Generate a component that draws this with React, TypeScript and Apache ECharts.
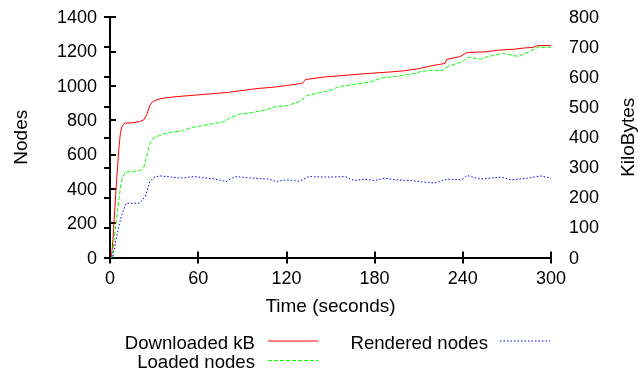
import React, { useEffect, useRef } from "react";
import * as echarts from "echarts";

// ---- data ----
const timeTicks = [0, 60, 120, 180, 240, 300];

const downloadedTime = [0, 1, 2, 4, 6, 7, 8, 10, 15, 20, 23, 25, 27, 29, 32, 36, 45, 60, 80, 100, 110, 120, 129, 131, 133, 145, 160, 175, 190, 200, 210, 218, 226, 228, 229, 238, 243, 255, 265, 275, 282, 288, 291, 300];
const downloadedKB = [0, 0, 60, 220, 360, 410, 435, 447, 448, 452, 458, 475, 505, 518, 525, 530, 535, 541, 549, 562, 566, 572, 578, 580, 592, 600, 606, 612, 617, 621, 628, 637, 644, 646, 659, 668, 682, 684, 690, 693, 697, 699, 705, 705];

const loadedTime = [0, 1.5, 3, 5, 7, 8, 10, 15, 21, 23, 25, 27, 29, 31, 36, 42, 50, 55, 60, 68, 77, 81, 88, 95, 106, 113, 120, 129, 134, 143, 151, 156, 165, 176, 185, 194, 205, 212, 219, 226, 230, 240, 243, 252, 257, 267, 278, 285, 291, 300];
const loadedNodes = [0, 0, 120, 267, 400, 450, 495, 500, 508, 525, 590, 660, 690, 700, 718, 730, 738, 757, 763, 776, 790, 810, 835, 841, 860, 879, 883, 908, 943, 960, 976, 996, 1006, 1020, 1045, 1054, 1068, 1083, 1090, 1088, 1112, 1141, 1166, 1155, 1170, 1188, 1170, 1198, 1224, 1224];

const renderedTime = [0, 2, 4, 6, 8, 11, 20, 24, 27, 30, 34, 42, 48, 57, 63, 72, 79, 85, 97, 108, 113, 120, 129, 135, 148, 160, 166, 173, 180, 187, 194, 205, 212, 221, 230, 239, 243, 252, 266, 273, 284, 293, 300];
const renderedNodes = [0, 5, 100, 180, 250, 316, 316, 355, 440, 468, 475, 468, 462, 471, 465, 456, 442, 471, 462, 456, 442, 452, 444, 471, 468, 471, 448, 456, 448, 462, 452, 448, 440, 434, 456, 452, 477, 456, 468, 452, 462, 475, 462];

const seriesNames = ["Downloaded kB", "Loaded nodes", "Rendered nodes"];
const seriesColors = ["#ff0000", "#00ff00", "#0000ff"];

const FONT = "Liberation Sans";
const FS = 18;
const FS_TEXT = 19;
const FS_LEGEND = 18.6;

const zip = (xs: number[], ys: number[]) => xs.map((x, i) => [x, ys[i]]);

export default function App() {
  const ref = useRef<HTMLDivElement>(null);
  useEffect(() => {
    const chart = echarts.init(ref.current!, null, { renderer: "svg" });
    const axisLine = { show: true, lineStyle: { color: "#000", width: 2 } };
    const axisTick = { show: true, inside: true, length: 6, lineStyle: { color: "#000", width: 2 } };
    const label = { color: "#000", fontSize: FS, fontFamily: FONT, formatter: (v: number) => String(v) };
    const nameStyle = { color: "#000", fontSize: FS_TEXT, fontFamily: FONT };
    const legendText = (text: string, x: number, y: number) => ({
      type: "text",
      x,
      y,
      style: { text, fill: "#000", fontSize: FS_LEGEND, fontFamily: FONT, align: "right", verticalAlign: "middle" },
    });
    const option: any = {
      animation: false,
      textStyle: { fontFamily: FONT },
      grid: { left: 110, top: 17, width: 441, height: 240.5, outerBoundsMode: "none" },
      xAxis: [
        {
          type: "value",
          position: "bottom",
          min: 0,
          max: 300,
          interval: 60,
          axisLine,
          axisTick,
          splitLine: { show: false },
          axisLabel: { ...label, margin: 11, customValues: timeTicks },
          name: "Time (seconds)",
          nameLocation: "middle",
          nameGap: 38,
          nameTextStyle: nameStyle,
        },
        {
          type: "value",
          position: "top",
          min: 0,
          max: 300,
          interval: 60,
          axisLine,
          axisTick,
          splitLine: { show: false },
          axisLabel: { show: false },
        },
      ],
      yAxis: [
        {
          type: "value",
          position: "left",
          min: 0,
          max: 1400,
          interval: 200,
          axisLine,
          axisTick,
          splitLine: { show: false },
          axisLabel: { ...label, margin: 13 },
          name: "Nodes",
          nameLocation: "middle",
          nameRotate: 90,
          nameGap: 80,
          nameTextStyle: nameStyle,
        },
        {
          type: "value",
          position: "right",
          min: 0,
          max: 800,
          interval: 100,
          axisLine,
          axisTick,
          splitLine: { show: false },
          axisLabel: { ...label, margin: 18 },
          name: "KiloBytes",
          nameLocation: "middle",
          nameRotate: 90,
          nameGap: 67,
          nameTextStyle: nameStyle,
        },
      ],
      series: [
        {
          name: seriesNames[0],
          type: "line",
          yAxisIndex: 1,
          showSymbol: false,
          data: zip(downloadedTime, downloadedKB),
          lineStyle: { color: seriesColors[0], width: 1 },
          itemStyle: { color: seriesColors[0] },
        },
        {
          name: seriesNames[1],
          type: "line",
          yAxisIndex: 0,
          showSymbol: false,
          data: zip(loadedTime, loadedNodes),
          lineStyle: { color: seriesColors[1], width: 1, type: [4, 2] },
          itemStyle: { color: seriesColors[1] },
        },
        {
          name: seriesNames[2],
          type: "line",
          yAxisIndex: 0,
          showSymbol: false,
          data: zip(renderedTime, renderedNodes),
          lineStyle: { color: seriesColors[2], width: 1, type: [1.5, 2] },
          itemStyle: { color: seriesColors[2] },
        },
      ],
      graphic: [
        legendText(seriesNames[0], 255, 342.5),
        { type: "line", shape: { x1: 268, y1: 341, x2: 318, y2: 341 }, style: { stroke: seriesColors[0], lineWidth: 1 } },
        legendText(seriesNames[1], 255, 361.5),
        { type: "line", shape: { x1: 268, y1: 360.5, x2: 318, y2: 360.5 }, style: { stroke: seriesColors[1], lineWidth: 1, lineDash: [4, 2] } },
        legendText(seriesNames[2], 488, 342.5),
        { type: "line", shape: { x1: 500, y1: 341, x2: 550, y2: 341 }, style: { stroke: seriesColors[2], lineWidth: 1, lineDash: [1.5, 2] } },
      ],
    };
    chart.setOption(option);
    return () => chart.dispose();
  }, []);
  return <div ref={ref} style={{ position: "fixed", left: 0, top: 0, width: 638, height: 373 }} />;
}
